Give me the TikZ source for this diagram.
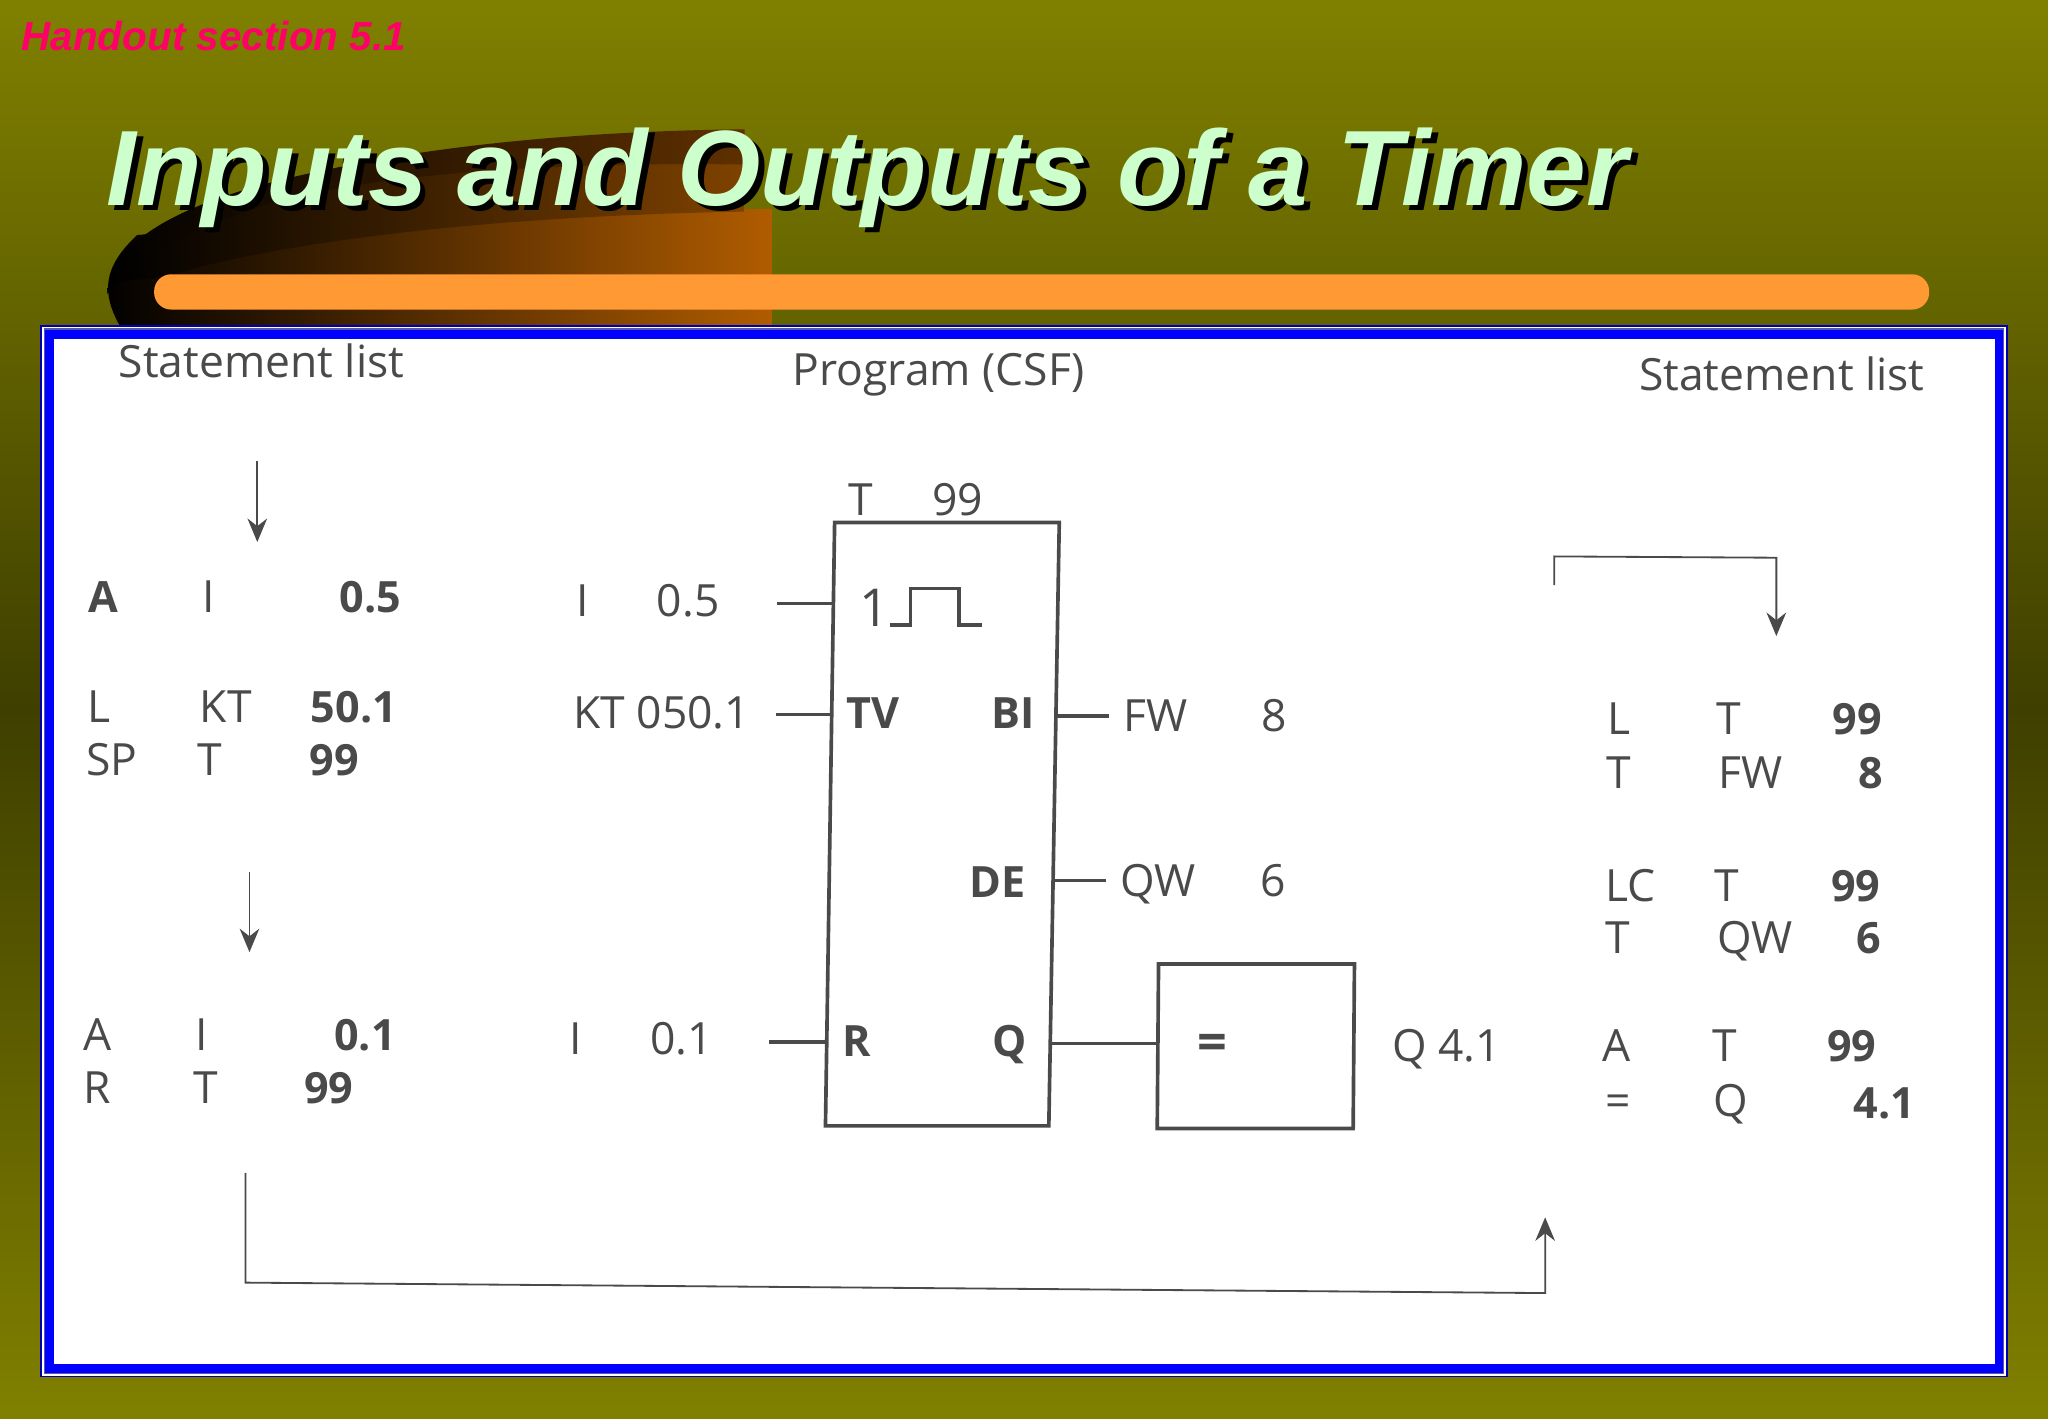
\documentclass[tikz,border=0pt]{standalone}
\usepackage{fontspec}
\setmainfont{Liberation Sans}
\newfontfamily\figfont{Open Sans}
\usetikzlibrary{arrows.meta}
\definecolor{olvA}{HTML}{808000}
\definecolor{olvB}{HTML}{3F3F00}
\definecolor{barO}{HTML}{FF9933}
\definecolor{ttl}{HTML}{CCFFCC}
\definecolor{hnd}{HTML}{FF0066}
\definecolor{ink}{HTML}{4A4A4A}
\definecolor{brA}{HTML}{7E4200}
\definecolor{brB}{HTML}{B05C00}
\definecolor{brC}{HTML}{5E3000}
\tikzset{
 txt/.style={anchor=base west,inner sep=0pt,outer sep=0pt,text=ink,font=\figfont\fontsize{17}{20}\selectfont},
 hd/.style={txt,font=\figfont\fontsize{17}{20}\selectfont},
 bld/.style={txt,font=\figfont\bfseries\fontsize{16.5}{20}\selectfont},
 boxline/.style={draw=ink,line width=1.4pt,line join=miter},
 wire/.style={draw=ink,line width=1.4pt},
 thin arrow/.style={draw=ink,line width=0.7pt,-{Stealth[length=9pt,width=7.5pt]}},
}
\begin{document}
\begin{tikzpicture}[x=0.5pt,y=-0.5pt]
\useasboundingbox (0,0) rectangle (1568,1086);
\shade[top color=olvA,bottom color=olvA,middle color=olvB] (0,0) rectangle (1568,1086);
% swoosh
\shade[left color=black,right color=brB] (591,160) -- (591,250) -- (92,250) .. controls (78,225) and (78,205) .. (105,180) .. controls (200,170) and (400,160) .. cycle;
\shade[left color=black,right color=brA] (570,125) -- (570,162) .. controls (400,165) and (250,180) .. (150,205) .. controls (130,212) and (100,215) .. (90,215) .. controls (110,180) and (200,150) .. (320,130) .. controls (400,125) and (500,125) .. cycle;
\shade[left color=black,right color=brC] (570,99) -- (570,126) .. controls (450,124) and (300,130) .. (210,155) .. controls (160,170) and (110,190) .. (82,225) .. controls (85,180) and (150,150) .. (250,130) .. controls (350,108) and (470,100) .. cycle;
% orange bar
\fill[barO,rounded corners=6.5pt] (118,210) rectangle (1477,237);
% frame
\fill[white] (31,249) rectangle (1537,1054);
\draw[blue!70!black,line width=0.6pt] (31.5,249.5) rectangle (1536.5,1054);
\draw[gray!70!blue,line width=0.6pt] (34,252) rectangle (1534,1051.5);
\draw[blue,line width=3.4pt] (38,256) rectangle (1530.5,1048);
% title
\node[anchor=base west,inner sep=0pt,font=\bfseries\itshape\fontsize{41}{48}\selectfont,text=black] (titleshadow) at (85.5,161.5) {Inputs and Outputs of a Timer};
\node[anchor=base west,inner sep=0pt,font=\bfseries\itshape\fontsize{41}{48}\selectfont,text=ttl] (title) at (81,157) {Inputs and Outputs of a Timer};
\node[anchor=base west,inner sep=0pt,font=\bfseries\itshape\fontsize{15.5}{18}\selectfont,text=hnd] (handout) at (16,39) {Handout section 5.1};
% headers
\node[hd] (h1) at (91,289) {Statement list};
\node[hd] (h2) at (607,295) {Program (CSF)};
\node[hd] (h3) at (1255,299) {Statement list};
% left column
\node[bld] (la1) at (68,469) {A};
\node[txt] (la2) at (155,469) {I};
\node[bld] (la3) at (260,469) {0.5};
\node[txt] (lb1) at (67,553) {L};
\node[txt] (lb2) at (153,553) {KT};
\node[bld] (lb3) at (238,553) {50.1};
\node[txt] (lc1) at (66,594) {SP};
\node[txt] (lc2) at (151,594) {T};
\node[bld] (lc3) at (237,594) {99};
\node[txt] (ld1) at (64,804) {A};
\node[txt] (ld2) at (150,804) {I};
\node[bld] (ld3) at (256,804) {0.1};
\node[txt] (le1) at (64,845) {R};
\node[txt] (le2) at (148,845) {T};
\node[bld] (le3) at (233,845) {99};
% middle labels
\node[txt] (mi1) at (441,472) {I};
\node[txt] (mi2) at (503,472) {0.5};
\node[txt] (mk) at (439,558) {KT 050.1};
\node[txt] (mr1) at (436,807) {I};
\node[txt] (mr2) at (498,807) {0.1};
\node[txt] (tt) at (650,395) {T};
\node[txt] (tn) at (714,395) {99};
% timer box
\coordinate (bTL) at (639,400);
\coordinate (bTR) at (811,400);
\coordinate (bBR) at (803,862);
\coordinate (bBL) at (632,862);
\draw[boxline] (bTL) -- (bTR) -- (bBR) -- (bBL) -- cycle;
\node[txt,font=\figfont\fontsize{20}{24}\selectfont] (one) at (658,480) {1};
\coordinate (p1) at (681.5,478.5);
\coordinate (p2) at (697,478.5);
\coordinate (p3) at (697,450.5);
\coordinate (p4) at (734,450.5);
\coordinate (p5) at (734,478.5);
\coordinate (p6) at (752,478.5);
\draw[wire] (p1) -- (p2) -- (p3) -- (p4) -- (p5) -- (p6);
\node[bld] (tv) at (648,558) {TV};
\node[bld] (bi) at (759,558) {BI};
\node[bld] (de) at (742,687) {DE};
\node[bld] (rr) at (645,809) {R};
\node[bld] (qq) at (760,809) {Q};
% wires
\coordinate (w1a) at (595,462); \coordinate (w1b) at (638,462);
\coordinate (w2a) at (594,547); \coordinate (w2b) at (637,547);
\coordinate (w3a) at (589,798); \coordinate (w3b) at (633,798);
\coordinate (w4a) at (808,548); \coordinate (w4b) at (849,548);
\coordinate (w5a) at (806,674); \coordinate (w5b) at (847,674);
\coordinate (w6a) at (804,799); \coordinate (w6b) at (886,799);
\draw[wire] (w1a) -- (w1b);
\draw[wire] (w2a) -- (w2b);
\draw[wire] (w3a) -- (w3b);
\draw[wire] (w4a) -- (w4b);
\draw[wire] (w5a) -- (w5b);
\draw[wire] (w6a) -- (w6b);
\node[txt] (fw) at (860,560) {FW};
\node[txt] (fw8) at (966,560) {8};
\node[txt] (qw) at (858,686) {QW};
\node[txt] (qw6) at (965,686) {6};
% assign box
\coordinate (cTL) at (887,738);
\coordinate (cTR) at (1037,738);
\coordinate (cBR) at (1036,864);
\coordinate (cBL) at (886,864);
\draw[boxline] (cTL) -- (cTR) -- (cBR) -- (cBL) -- cycle;
\node[txt,font=\figfont\bfseries\fontsize{20}{24}\selectfont] (eqm) at (917,812) {=};
\node[txt] (q41) at (1066,813) {Q 4.1};
% right column
\node[txt] (ra1) at (1231,562) {L};
\node[txt] (ra2) at (1314,562) {T};
\node[bld] (ra3) at (1403,562) {99};
\node[txt] (rb1) at (1230,604) {T};
\node[txt] (rb2) at (1316,604) {FW};
\node[bld] (rb3) at (1423,604) {8};
\node[txt] (rc1) at (1229,690) {LC};
\node[txt] (rc2) at (1313,690) {T};
\node[bld] (rc3) at (1402,690) {99};
\node[txt] (rd1) at (1229,730) {T};
\node[txt] (rd2) at (1315,730) {QW};
\node[bld] (rd3) at (1421,730) {6};
\node[txt] (re1) at (1227,813) {A};
\node[txt] (re2) at (1311,813) {T};
\node[bld] (re3) at (1399,813) {99};
\node[txt] (rf1) at (1229,855) {=};
\node[txt] (rf2) at (1312,855) {Q};
\node[bld] (rf3) at (1419,856) {4.1};
% arrows
\coordinate (a1s) at (197,353); \coordinate (a1e) at (197,415);
\coordinate (a2s) at (191,668); \coordinate (a2e) at (191,729);
\draw[thin arrow] (a1s) -- (a1e);
\draw[thin arrow] (a2s) -- (a2e);
\coordinate (a3s) at (188,898); \coordinate (a3c) at (188,982);
\coordinate (a3d) at (1183,990); \coordinate (a3e) at (1183,932);
\draw[thin arrow,line join=miter] (a3s) -- (a3c) -- (a3d) -- (a3e);
\coordinate (a4s) at (1190,448); \coordinate (a4c) at (1190,426);
\coordinate (a4d) at (1360,427); \coordinate (a4e) at (1360,487);
\draw[thin arrow,line join=miter] (a4s) -- (a4c) -- (a4d) -- (a4e);
\end{tikzpicture}
\end{document}
